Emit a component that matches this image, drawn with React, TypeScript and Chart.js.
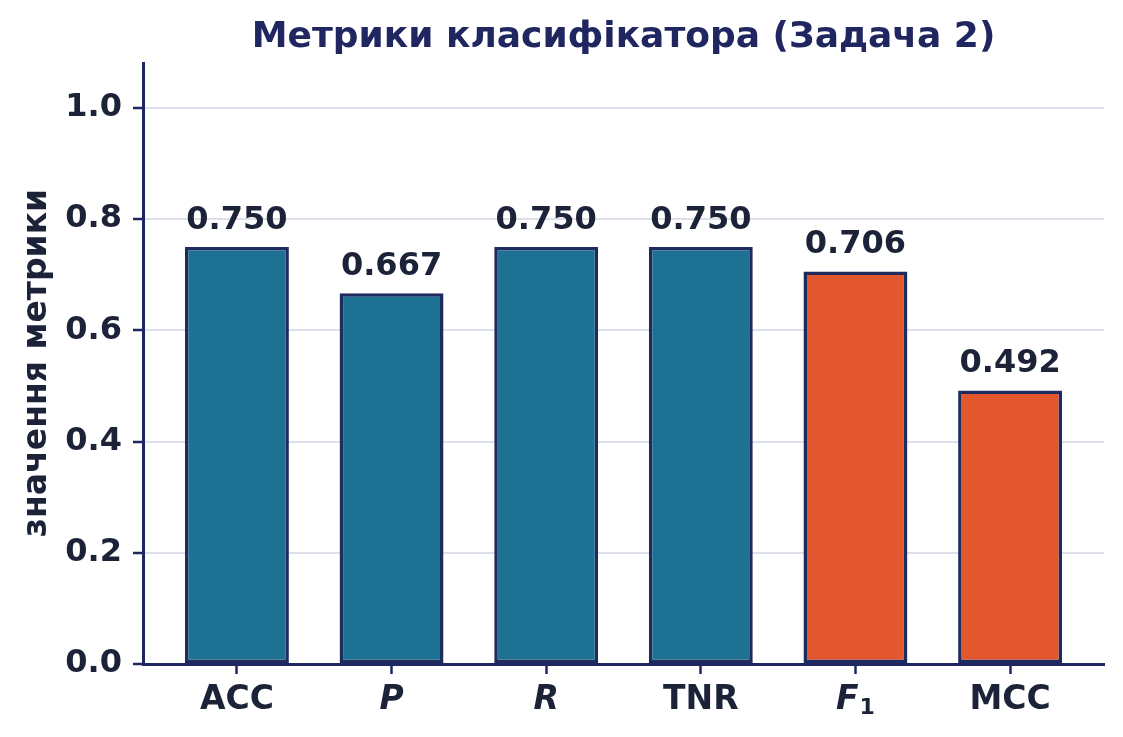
import React, { useEffect, useRef } from "react";
import { Chart, registerables } from "chart.js";

Chart.register(...registerables);

const categories = ["ACC", "P", "R", "TNR", "F", "MCC"];
const subscripts = ["", "", "", "", "1", ""];
const italicLabels = [false, true, true, false, true, false];
const values = [0.75, 0.667, 0.75, 0.75, 0.706, 0.492];
const barColors = ["#1d7293", "#1d7293", "#1d7293", "#1d7293", "#e3572f", "#e3572f"];
const yTicks = [0, 0.2, 0.4, 0.6, 0.8, 1.0];
const titleText = "Метрики класифікатора (Задача 2)";
const yLabel = "значення метрики";

const FONT = "'DejaVu Sans', sans-serif";
const NAVY = "#1f2660";
const EDGE = "#1f2a5e";
const TEXT = "#1c2238";

export default function App() {
  const ref = useRef<HTMLCanvasElement>(null);
  useEffect(() => {
    document.body.style.margin = "0";
    const canvas = ref.current!;
    const overlay = {
      id: "overlay",
      afterDatasetsDraw(chart: any) {
        const ctx = chart.ctx;
        const meta = chart.getDatasetMeta(0);
        ctx.save();
        ctx.fillStyle = TEXT;
        ctx.font = `bold 32px ${FONT}`;
        ctx.textAlign = "center";
        ctx.textBaseline = "alphabetic";
        meta.data.forEach((el: any, i: number) => {
          ctx.fillText(values[i].toFixed(3), el.x, el.y - 18);
        });
        ctx.restore();
      },
      afterDraw(chart: any) {
        const ctx = chart.ctx;
        const area = chart.chartArea;
        const xs = chart.scales.x;
        ctx.save();
        // x tick labels (with mathtext-like subscript)
        ctx.fillStyle = TEXT;
        ctx.textBaseline = "alphabetic";
        ctx.textAlign = "left";
        categories.forEach((lab, i) => {
          const cx = xs.getPixelForValue(i);
          const mainFont = `${italicLabels[i] ? "italic " : ""}bold 33px ${FONT}`;
          const subFont = `bold 22px ${FONT}`;
          ctx.font = mainFont;
          const w1 = ctx.measureText(lab).width;
          let w2 = 0;
          if (subscripts[i]) {
            ctx.font = subFont;
            w2 = ctx.measureText(subscripts[i]).width + 1;
          }
          const x0 = cx - (w1 + w2) / 2;
          const base = area.bottom + 45;
          ctx.font = mainFont;
          ctx.fillText(lab, x0, base);
          if (subscripts[i]) {
            ctx.font = subFont;
            ctx.fillText(subscripts[i], x0 + w1 + 1, base + 5);
          }
        });
        // title
        ctx.fillStyle = NAVY;
        ctx.font = `bold 36px ${FONT}`;
        ctx.textAlign = "center";
        ctx.fillText(titleText, (area.left + area.right) / 2, 47);
        // y label
        ctx.fillStyle = TEXT;
        ctx.font = `bold 33px ${FONT}`;
        ctx.translate(37, 363);
        ctx.rotate(-Math.PI / 2);
        ctx.textBaseline = "middle";
        ctx.fillText(yLabel, 0, 0);
        ctx.restore();
      },
    };
    const chart = new Chart(canvas, {
      type: "bar",
      data: {
        datasets: [
          {
            data: values.map((v, i) => ({ x: i, y: v })),
            backgroundColor: barColors,
            borderColor: EDGE,
            borderWidth: 3.5,
            borderSkipped: false,
            barPercentage: 0.672,
            categoryPercentage: 1,
          },
        ],
      },
      options: {
        animation: false,
        responsive: false,
        devicePixelRatio: 1,
        layout: { padding: { top: 63.5, right: 19, left: 0, bottom: 0 } },
        plugins: { legend: { display: false }, title: { display: false }, tooltip: { enabled: false } },
        scales: {
          x: {
            type: "linear",
            offset: false,
            min: -0.6075,
            max: 5.6075,
            afterBuildTicks: (scale: any) => {
              scale.ticks = categories.map((_, i) => ({ value: i }));
            },
            afterFit: (scale: any) => {
              scale.height = 737 - 664;
            },
            ticks: {
              autoSkip: false,
              maxRotation: 0,
              color: "rgba(0,0,0,0)",
              font: { family: FONT, size: 30, weight: "bold" },
              callback: () => "",
            },
            grid: { offset: false, drawOnChartArea: false, tickColor: NAVY, tickLength: 10, tickWidth: 2.5 },
            border: { color: NAVY, width: 3 },
          },
          y: {
            min: 0,
            max: 1.08,
            afterBuildTicks: (scale: any) => {
              scale.ticks = yTicks.map((v) => ({ value: v }));
            },
            afterFit: (scale: any) => {
              scale.width = 143;
            },
            ticks: {
              padding: 11,
              color: TEXT,
              font: { family: FONT, size: 32, weight: "bold" },
              callback: (v: any) => Number(v).toFixed(1),
            },
            grid: { color: "#dde0ea", lineWidth: 2, tickColor: NAVY, tickLength: 10, tickWidth: 2.5 },
            border: { color: NAVY, width: 3 },
          },
        },
      },
      plugins: [overlay],
    } as any);
    return () => chart.destroy();
  }, []);
  return (
    <div style={{ width: 1123, height: 737, background: "#fff" }}>
      <canvas ref={ref} width={1123} height={737} style={{ display: "block" }} />
    </div>
  );
}
